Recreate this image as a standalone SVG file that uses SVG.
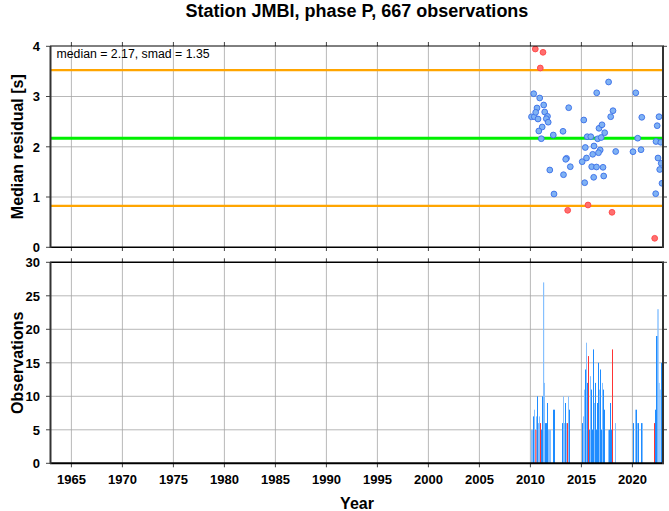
<svg xmlns="http://www.w3.org/2000/svg" width="669" height="511" viewBox="0 0 669 511">
<style>
text{font-family:"Liberation Sans",Arial,Helvetica,sans-serif;fill:#000}
.title{font-size:18px;font-weight:bold;text-anchor:middle}
.lab{font-size:16px;font-weight:bold;text-anchor:middle}
.ty{font-size:13px;font-weight:bold;text-anchor:end}
.tx{font-size:13px;font-weight:bold;text-anchor:middle}
.note{font-size:12.3px}
.grid{stroke:#a6a6a6;stroke-width:0.8;fill:none}
.tick{stroke:#444;stroke-width:1;fill:none}
.ax{stroke:#333;stroke-width:2;fill:none}
.axb{stroke:#000;stroke-width:1;fill:none}
.b circle{fill:#7fb2f4;stroke:#3a6ee8;stroke-width:0.9}
.r circle{fill:#ff6e6e;stroke:#ff4646;stroke-width:0.9}
.B{fill:#1e8cff}
.L{fill:#86c0ff}
.R{fill:#ff3434}
</style>
<defs>
<clipPath id="c1"><rect x="51" y="46" width="612" height="201.3"/></clipPath>
</defs>
<text class="title" x="357" y="17">Station JMBI, phase P, 667 observations</text>

<g id="panel-top">
<g id="top-grid" class="grid">
<path d="M71.4 46V247.3M122.4 46V247.3M173.4 46V247.3M224.4 46V247.3M275.4 46V247.3M326.4 46V247.3M377.4 46V247.3M428.4 46V247.3M479.4 46V247.3M530.4 46V247.3M581.4 46V247.3M632.4 46V247.3"/>
<path d="M51 197H663M51 146.8H663M51 96.5H663"/>
</g>
<g id="ref-lines">
<line x1="51" y1="70.1" x2="663" y2="70.1" stroke="#ffa500" stroke-width="2.2"/>
<line x1="51" y1="205.9" x2="663" y2="205.9" stroke="#ffa500" stroke-width="2.2"/>
<line x1="51" y1="138.3" x2="663" y2="138.3" stroke="#00f000" stroke-width="3"/>
</g>
<g id="dots" clip-path="url(#c1)">
<g class="b">
<circle cx="531.5" cy="116.8" r="2.9"/><circle cx="534.3" cy="116.7" r="2.9"/><circle cx="533.7" cy="93.7" r="2.9"/>
<circle cx="539.7" cy="98" r="2.9"/><circle cx="543.7" cy="105" r="2.9"/><circle cx="537" cy="108" r="2.9"/>
<circle cx="535.7" cy="112.3" r="2.9"/><circle cx="544.7" cy="112" r="2.9"/><circle cx="538" cy="119" r="2.9"/>
<circle cx="547.5" cy="116.3" r="2.9"/><circle cx="546.3" cy="118.7" r="2.9"/><circle cx="548.2" cy="122.2" r="2.9"/>
<circle cx="542.2" cy="127" r="2.9"/><circle cx="538.8" cy="131" r="2.9"/><circle cx="541.3" cy="138.7" r="2.9"/>
<circle cx="553.3" cy="135" r="2.9"/><circle cx="549.8" cy="170" r="2.9"/><circle cx="554" cy="194" r="2.9"/>
<circle cx="563" cy="131.3" r="2.9"/><circle cx="568.7" cy="107.7" r="2.9"/><circle cx="566.5" cy="158.3" r="2.9"/>
<circle cx="565.7" cy="159.3" r="2.9"/><circle cx="570.3" cy="166.7" r="2.9"/><circle cx="563.5" cy="174.7" r="2.9"/>
<circle cx="583.8" cy="120" r="2.9"/><circle cx="582.2" cy="161.7" r="2.9"/><circle cx="584.7" cy="182.7" r="2.9"/>
<circle cx="585.3" cy="147.5" r="2.9"/><circle cx="586.5" cy="158" r="2.9"/><circle cx="587.2" cy="136.7" r="2.9"/>
<circle cx="590.8" cy="136.7" r="2.9"/><circle cx="592.7" cy="154.3" r="2.9"/><circle cx="591.7" cy="166.7" r="2.9"/>
<circle cx="593.7" cy="177.3" r="2.9"/><circle cx="594" cy="146" r="2.9"/><circle cx="596.5" cy="167" r="2.9"/>
<circle cx="596.7" cy="92.8" r="2.9"/><circle cx="597.7" cy="138.8" r="2.9"/><circle cx="601.2" cy="137.5" r="2.9"/>
<circle cx="599" cy="128.3" r="2.9"/><circle cx="602" cy="124.8" r="2.9"/><circle cx="604.7" cy="132.7" r="2.9"/>
<circle cx="600.2" cy="150" r="2.9"/><circle cx="598.5" cy="152.7" r="2.9"/><circle cx="603" cy="167.3" r="2.9"/>
<circle cx="603.7" cy="176" r="2.9"/><circle cx="608.6" cy="82" r="2.9"/><circle cx="610.7" cy="116.7" r="2.9"/>
<circle cx="613" cy="110.7" r="2.9"/><circle cx="615.7" cy="151.5" r="2.9"/><circle cx="635.8" cy="92.8" r="2.9"/>
<circle cx="633" cy="151.7" r="2.9"/><circle cx="641" cy="149.7" r="2.9"/><circle cx="637.7" cy="138.2" r="2.9"/>
<circle cx="641.8" cy="117.3" r="2.9"/><circle cx="659" cy="116.7" r="2.9"/><circle cx="657.2" cy="125.7" r="2.9"/>
<circle cx="656" cy="141.5" r="2.9"/><circle cx="660.8" cy="142.3" r="2.9"/><circle cx="658" cy="158" r="2.9"/>
<circle cx="661.2" cy="163.3" r="2.9"/><circle cx="659.7" cy="169.5" r="2.9"/><circle cx="662" cy="183.3" r="2.9"/>
<circle cx="655.7" cy="193.7" r="2.9"/>
</g>
<g class="r">
<circle cx="535.3" cy="49" r="2.9"/><circle cx="543" cy="52.3" r="2.9"/><circle cx="540.3" cy="68" r="2.9"/>
<circle cx="567.7" cy="210.3" r="2.9"/><circle cx="588" cy="205" r="2.9"/><circle cx="612" cy="212.3" r="2.9"/>
<circle cx="654.7" cy="238.3" r="2.9"/>
</g>
</g>
<g id="top-frame">
<path class="tick" d="M46 247.3H50M46 197H50M46 146.8H50M46 96.5H50M46 46.3H50"/>
<path class="tick" d="M663 197H667M663 146.8H667M663 96.5H667M663 46.3H667"/>
<path class="tick" d="M71.4 42V46M122.4 42V46M173.4 42V46M224.4 42V46M275.4 42V46M326.4 42V46M377.4 42V46M428.4 42V46M479.4 42V46M530.4 42V46M581.4 42V46M632.4 42V46"/>
<path class="tick" d="M71.4 247.3V251M122.4 247.3V251M173.4 247.3V251M224.4 247.3V251M275.4 247.3V251M326.4 247.3V251M377.4 247.3V251M428.4 247.3V251M479.4 247.3V251M530.4 247.3V251M581.4 247.3V251M632.4 247.3V251"/>
<line class="axb" x1="50" y1="46" x2="664" y2="46"/>
<line x1="50" y1="247.3" x2="664" y2="247.3" stroke="#000" stroke-width="1.6"/>
<line class="ax" x1="50.5" y1="46" x2="50.5" y2="248"/>
<line class="ax" x1="663" y1="46" x2="663" y2="248"/>
<text class="ty" x="40" y="252">0</text>
<text class="ty" x="40" y="201.7">1</text>
<text class="ty" x="40" y="151.5">2</text>
<text class="ty" x="40" y="101.2">3</text>
<text class="ty" x="40" y="51">4</text>
<text class="note" x="56.5" y="57.5">median = 2.17, smad = 1.35</text>
<text class="lab" transform="translate(23 146.7) rotate(-90)">Median residual [s]</text>
</g>
</g>

<g id="panel-bottom">
<g id="bottom-grid" class="grid">
<path d="M71.4 262.3V463.3M122.4 262.3V463.3M173.4 262.3V463.3M224.4 262.3V463.3M275.4 262.3V463.3M326.4 262.3V463.3M377.4 262.3V463.3M428.4 262.3V463.3M479.4 262.3V463.3M530.4 262.3V463.3M581.4 262.3V463.3M632.4 262.3V463.3"/>
<path d="M51 429.8H663M51 396.3H663M51 362.8H663M51 329.3H663M51 295.8H663"/>
</g>
<g id="bars">
<g class="L">
<rect x="531" y="429.8" width="2" height="33.5"/><rect x="534" y="409.7" width="1" height="53.6"/><rect x="536" y="416.4" width="1" height="46.9"/>
<rect x="538" y="423.1" width="1" height="40.2"/><rect x="539" y="416.4" width="1" height="46.9"/><rect x="543" y="282.4" width="1.2" height="180.9"/>
<rect x="544" y="382.9" width="1" height="80.4"/><rect x="548" y="429.8" width="3" height="33.5"/>
<rect x="563" y="396.3" width="1" height="67"/><rect x="564" y="423.1" width="1" height="40.2"/><rect x="566" y="423.1" width="1" height="40.2"/>
<rect x="568" y="396.3" width="1" height="67"/>
<rect x="583" y="416.4" width="1" height="46.9"/><rect x="584" y="389.6" width="1" height="73.7"/><rect x="586" y="342.7" width="1" height="120.6"/>
<rect x="590" y="376.2" width="1" height="87.1"/><rect x="594" y="403" width="1" height="60.3"/><rect x="599" y="389.6" width="1" height="73.7"/>
<rect x="602" y="382.9" width="1" height="80.4"/><rect x="608" y="429.8" width="1" height="33.5"/><rect x="615" y="423.1" width="1" height="40.2"/>
<rect x="635" y="409.7" width="1" height="53.6"/><rect x="637" y="423.1" width="1" height="40.2"/><rect x="642" y="423.1" width="1" height="40.2"/>
<rect x="657.3" y="309.2" width="1.4" height="154.1"/><rect x="658.7" y="382.9" width="1" height="80.4"/><rect x="659.7" y="389.6" width="1" height="73.7"/>
</g>
<g class="B">
<rect x="533" y="416.4" width="1" height="46.9"/><rect x="537" y="396.3" width="1" height="67"/><rect x="541" y="429.8" width="1" height="33.5"/>
<rect x="542" y="396.3" width="1" height="67"/><rect x="545" y="423.1" width="2" height="40.2"/><rect x="547" y="403" width="1" height="60.3"/>
<rect x="553" y="409.7" width="2" height="53.6"/>
<rect x="562" y="423.1" width="1" height="40.2"/><rect x="565" y="403" width="1" height="60.3"/><rect x="569" y="409.7" width="1" height="53.6"/>
<rect x="582" y="423.1" width="1" height="40.2"/><rect x="585" y="369.5" width="1" height="93.8"/><rect x="587" y="382.9" width="1" height="80.4"/>
<rect x="589" y="429.8" width="1" height="33.5"/><rect x="591" y="389.6" width="1" height="73.7"/><rect x="592" y="429.8" width="1" height="33.5"/>
<rect x="593" y="349.4" width="1" height="113.9"/><rect x="595" y="382.9" width="1" height="80.4"/><rect x="596" y="429.8" width="1" height="33.5"/>
<rect x="597" y="403" width="1" height="60.3"/><rect x="598" y="362.8" width="1" height="100.5"/><rect x="600" y="369.5" width="1" height="93.8"/>
<rect x="601" y="429.8" width="1" height="33.5"/><rect x="603" y="389.6" width="1" height="73.7"/><rect x="604" y="409.7" width="1" height="53.6"/>
<rect x="609" y="429.8" width="1" height="33.5"/><rect x="610" y="403" width="1" height="60.3"/><rect x="611" y="429.8" width="1" height="33.5"/>
<rect x="633" y="423.1" width="1" height="40.2"/><rect x="636" y="409.7" width="1" height="53.6"/><rect x="638" y="423.1" width="1" height="40.2"/>
<rect x="641" y="423.1" width="1" height="40.2"/>
<rect x="655" y="409.7" width="1" height="53.6"/><rect x="656" y="336" width="1.4" height="127.3"/><rect x="661" y="362.8" width="1.2" height="100.5"/>
</g>
<g class="R">
<rect x="535.3" y="429.8" width="1" height="33.5"/><rect x="540" y="423.1" width="1" height="40.2"/><rect x="567" y="423.1" width="1" height="40.2"/>
<rect x="588" y="356.1" width="1" height="107.2"/><rect x="612" y="349.4" width="1" height="113.9"/><rect x="654" y="423.1" width="1" height="40.2"/>
</g>
</g>
<g id="bottom-frame">
<path class="tick" d="M46 463.3H50M46 429.8H50M46 396.3H50M46 362.8H50M46 329.3H50M46 295.8H50M46 262.3H50"/>
<path class="tick" d="M663 429.8H667M663 396.3H667M663 362.8H667M663 329.3H667M663 295.8H667M663 262.3H667"/>
<path class="tick" d="M71.4 258.3V262.3M122.4 258.3V262.3M173.4 258.3V262.3M224.4 258.3V262.3M275.4 258.3V262.3M326.4 258.3V262.3M377.4 258.3V262.3M428.4 258.3V262.3M479.4 258.3V262.3M530.4 258.3V262.3M581.4 258.3V262.3M632.4 258.3V262.3"/>
<path class="tick" d="M71.4 463.3V467.3M122.4 463.3V467.3M173.4 463.3V467.3M224.4 463.3V467.3M275.4 463.3V467.3M326.4 463.3V467.3M377.4 463.3V467.3M428.4 463.3V467.3M479.4 463.3V467.3M530.4 463.3V467.3M581.4 463.3V467.3M632.4 463.3V467.3"/>
<line x1="50" y1="262.3" x2="664" y2="262.3" stroke="#000" stroke-width="1.6"/>
<line x1="50" y1="463.3" x2="664" y2="463.3" stroke="#000" stroke-width="2"/>
<line class="ax" x1="50.5" y1="262" x2="50.5" y2="464"/>
<line class="ax" x1="663" y1="262" x2="663" y2="464"/>
<text class="ty" x="40" y="468">0</text>
<text class="ty" x="40" y="434.5">5</text>
<text class="ty" x="40" y="401">10</text>
<text class="ty" x="40" y="367.5">15</text>
<text class="ty" x="40" y="334">20</text>
<text class="ty" x="40" y="300.5">25</text>
<text class="ty" x="40" y="267">30</text>
<text class="lab" transform="translate(23 362.8) rotate(-90)">Observations</text>
<text class="tx" x="71.4" y="484">1965</text>
<text class="tx" x="122.4" y="484">1970</text>
<text class="tx" x="173.4" y="484">1975</text>
<text class="tx" x="224.4" y="484">1980</text>
<text class="tx" x="275.4" y="484">1985</text>
<text class="tx" x="326.4" y="484">1990</text>
<text class="tx" x="377.4" y="484">1995</text>
<text class="tx" x="428.4" y="484">2000</text>
<text class="tx" x="479.4" y="484">2005</text>
<text class="tx" x="530.4" y="484">2010</text>
<text class="tx" x="581.4" y="484">2015</text>
<text class="tx" x="632.4" y="484">2020</text>
<text class="lab" x="357" y="509">Year</text>
</g>
</g>
</svg>
